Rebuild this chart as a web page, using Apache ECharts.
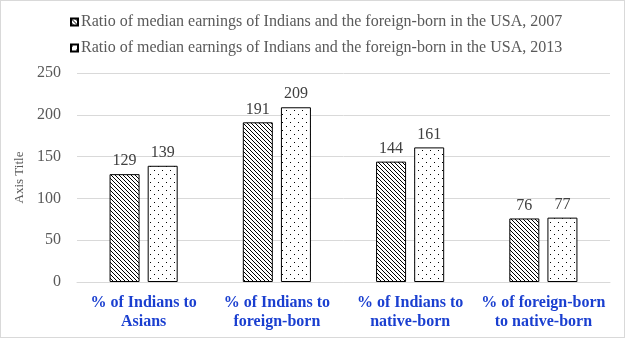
<!DOCTYPE html>
<html>
<head>
<meta charset="utf-8">
<script src="https://cdn.jsdelivr.net/npm/echarts@6/dist/echarts.min.js"></script>
<style>
  html, body { margin: 0; padding: 0; background: #fff; }
  #chart { width: 623px; height: 336px; border: 1px solid #d9d9d9; }
</style>
</head>
<body>
<div id="chart"></div>
<script>
const categories = [
  '% of Indians to\nAsians',
  '% of Indians to\nforeign-born',
  '% of Indians to\nnative-born',
  '% of foreign-born\nto native-born'
];
const seriesNames = [
  'Ratio of median earnings of Indians and the foreign-born in the USA, 2007',
  'Ratio of median earnings of Indians and the foreign-born in the USA, 2013'
];
const values2007 = [129, 191, 144, 76];
const values2013 = [139, 209, 161, 77];
const yTicks = { min: 0, max: 250, interval: 50 };

// Diagonal hatch fill (lines running top-left to bottom-right)
function hatchPattern() {
  const c = document.createElement('canvas');
  c.width = 4; c.height = 4;
  const ctx = c.getContext('2d');
  ctx.fillStyle = '#fff';
  ctx.fillRect(0, 0, 4, 4);
  ctx.fillStyle = '#000';
  for (let i = 0; i < 4; i++) ctx.fillRect(i, i, 1, 1);
  return c;
}

// Sparse staggered dot fill
function dotPattern() {
  const c = document.createElement('canvas');
  c.width = 8; c.height = 8;
  const ctx = c.getContext('2d');
  ctx.fillStyle = '#fff';
  ctx.fillRect(0, 0, 8, 8);
  ctx.fillStyle = '#000';
  ctx.fillRect(1, 1, 1, 1);
  ctx.fillRect(5, 5, 1, 1);
  return c;
}

const fontFamily = '"Liberation Serif", "Times New Roman", serif';
const chart = echarts.init(document.getElementById('chart'));

const labelStyle = {
  show: true,
  position: 'top',
  distance: 5,
  color: '#404040',
  fontFamily: fontFamily,
  fontSize: 16
};

chart.setOption({
  animation: false,
  textStyle: { fontFamily: fontFamily },
  legend: {
    orient: 'vertical',
    left: 64,
    top: 7,
    itemWidth: 7,
    itemHeight: 7,
    itemGap: 8,
    icon: 'rect',
    textStyle: {
      color: '#595959', fontSize: 16, lineHeight: 18, fontFamily: fontFamily,
      padding: [0, 0, 0, -2]
    },
    data: seriesNames
  },
  grid: { left: 76, right: 14, top: 72, bottom: 55, containLabel: false },
  xAxis: {
    type: 'category',
    data: categories,
    axisLine: { lineStyle: { color: '#d9d9d9' } },
    axisTick: { show: false },
    axisLabel: {
      interval: 0,
      color: '#1a3fd0',
      fontWeight: 'bold',
      fontSize: 16,
      lineHeight: 19,
      margin: 11,
      fontFamily: fontFamily
    }
  },
  yAxis: {
    type: 'value',
    min: yTicks.min,
    max: yTicks.max,
    interval: yTicks.interval,
    name: 'Axis Title',
    nameLocation: 'middle',
    nameGap: 42,
    nameTextStyle: { color: '#595959', fontSize: 13, fontFamily: fontFamily },
    axisLine: { show: false },
    axisTick: { show: false },
    axisLabel: { color: '#595959', fontSize: 16, margin: 16, fontFamily: fontFamily },
    splitLine: { lineStyle: { color: '#d9d9d9' } }
  },
  series: [
    {
      name: seriesNames[0],
      type: 'bar',
      data: values2007,
      barWidth: 30,
      barGap: '27%',
      itemStyle: { color: { image: hatchPattern(), repeat: 'repeat' }, borderColor: '#000', borderWidth: 1 },
      label: labelStyle
    },
    {
      name: seriesNames[1],
      type: 'bar',
      data: values2013,
      barWidth: 30,
      barGap: '27%',
      itemStyle: { color: { image: dotPattern(), repeat: 'repeat' }, borderColor: '#000', borderWidth: 1 },
      label: labelStyle
    }
  ]
});
</script>
</body>
</html>
